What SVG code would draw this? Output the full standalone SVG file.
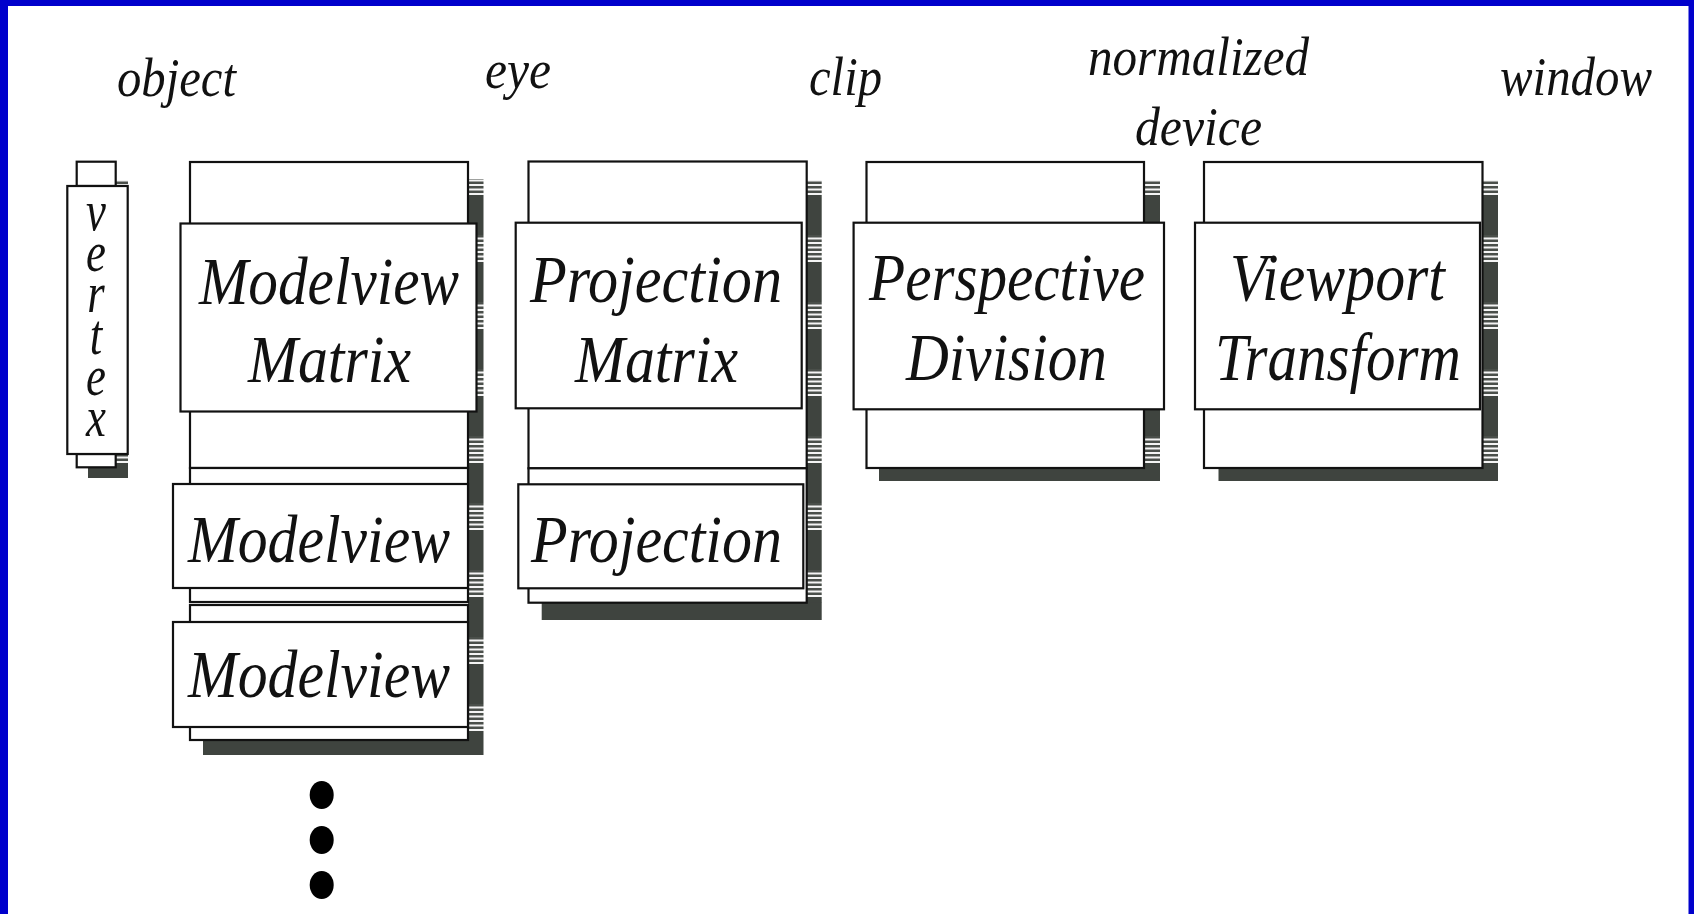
<svg xmlns="http://www.w3.org/2000/svg" width="1694" height="914" viewBox="0 0 1694 914">
  <defs>
    <style>
      .box { fill: #ffffff; stroke: #111111; stroke-width: 2.2; }
      .shade { fill: #3f443f; }
      .col { fill: url(#shadeTex); }
      .lbl { font-family: "Liberation Serif", "Times New Roman", serif; font-style: italic; font-size: 54px; fill: #111111; }
      .big { font-family: "Liberation Serif", "Times New Roman", serif; font-style: italic; font-size: 68px; fill: #111111; }
      .vch { font-family: "Liberation Serif", "Times New Roman", serif; font-style: italic; font-size: 56px; fill: #111111; writing-mode: vertical-rl; text-orientation: upright; letter-spacing: -20.5px; }
    </style>
    <!-- banded drop-shadow texture: striped band followed by solid band -->
    <pattern id="shadeTex" patternUnits="userSpaceOnUse" x="0" y="34" width="20" height="67">
      <rect x="0" y="0" width="20" height="67" fill="#3f443f"/>
      <rect x="0" y="0" width="20" height="27" fill="#f4f4f4"/>
      <rect x="0" y="0" width="20" height="2.5" fill="#4a4f4a"/>
      <rect x="0" y="4.5" width="20" height="2.5" fill="#4a4f4a"/>
      <rect x="0" y="9" width="20" height="2.5" fill="#4a4f4a"/>
      <rect x="0" y="13.5" width="20" height="2.5" fill="#4a4f4a"/>
      <rect x="0" y="18" width="20" height="2.5" fill="#4a4f4a"/>
      <rect x="0" y="22.5" width="20" height="2.5" fill="#4a4f4a"/>
    </pattern>
  </defs>

  <!-- page background and blue frame -->
  <rect x="0" y="0" width="1694" height="914" fill="#ffffff"/>
  <rect x="0" y="0" width="8" height="914" fill="#0000cc"/>
  <rect x="0" y="0" width="1694" height="6" fill="#0000cc"/>
  <rect x="1688.5" y="0" width="5.5" height="914" fill="#0000cc"/>

  <!-- coordinate-space labels -->
  <g id="labels">
    <text class="lbl" x="117" y="96" textLength="119" lengthAdjust="spacingAndGlyphs">object</text>
    <text class="lbl" x="485" y="88" textLength="66" lengthAdjust="spacingAndGlyphs">eye</text>
    <text class="lbl" x="809" y="95" textLength="73" lengthAdjust="spacingAndGlyphs">clip</text>
    <text class="lbl" x="1088" y="75" textLength="221" lengthAdjust="spacingAndGlyphs">normalized</text>
    <text class="lbl" x="1135" y="145" textLength="127" lengthAdjust="spacingAndGlyphs">device</text>
    <text class="lbl" x="1500" y="95" textLength="152" lengthAdjust="spacingAndGlyphs">window</text>
  </g>

  <!-- vertex: letters stacked top to bottom -->
  <g id="vertex">
    <rect class="col" x="116" y="180" width="12" height="288"/>
    <rect class="shade" x="88" y="467" width="40" height="11"/>
    <rect class="box" x="76.7" y="161.7" width="39" height="24.3"/>
    <rect class="box" x="76.7" y="454" width="39" height="13.3"/>
    <rect class="box" x="67.3" y="186" width="60.4" height="268"/>
    <g transform="translate(96,0) scale(0.8,1)">
      <text class="vch" x="0" y="180">vertex</text>
    </g>
  </g>

  <!-- modelview matrix stack -->
  <g id="modelview-stack">
    <rect class="col" x="468" y="179" width="15.5" height="561"/>
    <rect class="shade" x="203" y="740" width="280.5" height="15"/>
    <rect class="box" x="190" y="162" width="278" height="306"/>
    <rect class="box" x="190" y="468" width="278" height="134"/>
    <rect class="box" x="190" y="605" width="278" height="135"/>
    <rect class="box" x="180.5" y="223.5" width="296" height="188"/>
    <text class="big" x="199" y="304" textLength="260" lengthAdjust="spacingAndGlyphs">Modelview</text>
    <text class="big" x="248" y="382" textLength="163" lengthAdjust="spacingAndGlyphs">Matrix</text>
    <rect class="box" x="173" y="484" width="295" height="104"/>
    <text class="big" x="188" y="561.7" textLength="262" lengthAdjust="spacingAndGlyphs">Modelview</text>
    <rect class="box" x="173" y="622" width="295" height="105"/>
    <text class="big" x="188" y="696.7" textLength="262" lengthAdjust="spacingAndGlyphs">Modelview</text>
  </g>

  <!-- more entries further down the stack -->
  <g id="stack-continues">
    <ellipse cx="321.7" cy="795" rx="12" ry="14" fill="#000000"/>
    <ellipse cx="321.7" cy="840" rx="12" ry="14" fill="#000000"/>
    <ellipse cx="321.7" cy="885" rx="12" ry="14" fill="#000000"/>
  </g>

  <!-- projection matrix stack -->
  <g id="projection-stack">
    <rect class="col" x="806.7" y="180" width="15" height="423"/>
    <rect class="shade" x="541.7" y="602.7" width="280" height="17.3"/>
    <rect class="box" x="528.5" y="161.5" width="278.2" height="306.8"/>
    <rect class="box" x="528.5" y="468.3" width="278.2" height="134.4"/>
    <rect class="box" x="515.7" y="222.7" width="286" height="185.6"/>
    <text class="big" x="530" y="301.7" textLength="252" lengthAdjust="spacingAndGlyphs">Projection</text>
    <text class="big" x="575" y="381.7" textLength="163" lengthAdjust="spacingAndGlyphs">Matrix</text>
    <rect class="box" x="518.3" y="484.3" width="285" height="104"/>
    <text class="big" x="531" y="561.7" textLength="251" lengthAdjust="spacingAndGlyphs">Projection</text>
  </g>

  <!-- perspective division -->
  <g id="perspective-division">
    <rect class="col" x="1144" y="180" width="16" height="288"/>
    <rect class="shade" x="879" y="468" width="281" height="13"/>
    <rect class="box" x="866.5" y="162" width="277.5" height="306"/>
    <rect class="box" x="853.6" y="222.7" width="310.4" height="186.6"/>
    <text class="big" x="869" y="300" textLength="276" lengthAdjust="spacingAndGlyphs">Perspective</text>
    <text class="big" x="906" y="380" textLength="201" lengthAdjust="spacingAndGlyphs">Division</text>
  </g>

  <!-- viewport transform -->
  <g id="viewport-transform">
    <rect class="col" x="1482.5" y="180" width="15.5" height="288"/>
    <rect class="shade" x="1218.5" y="468" width="279.5" height="13"/>
    <rect class="box" x="1204" y="162" width="278.5" height="306"/>
    <rect class="box" x="1195" y="222.7" width="285" height="186.6"/>
    <text class="big" x="1230" y="300" textLength="215" lengthAdjust="spacingAndGlyphs">Viewport</text>
    <text class="big" x="1215" y="380" textLength="246" lengthAdjust="spacingAndGlyphs">Transform</text>
  </g>

  <!-- no connectors in this figure -->
  <g id="connectors"/>
</svg>
